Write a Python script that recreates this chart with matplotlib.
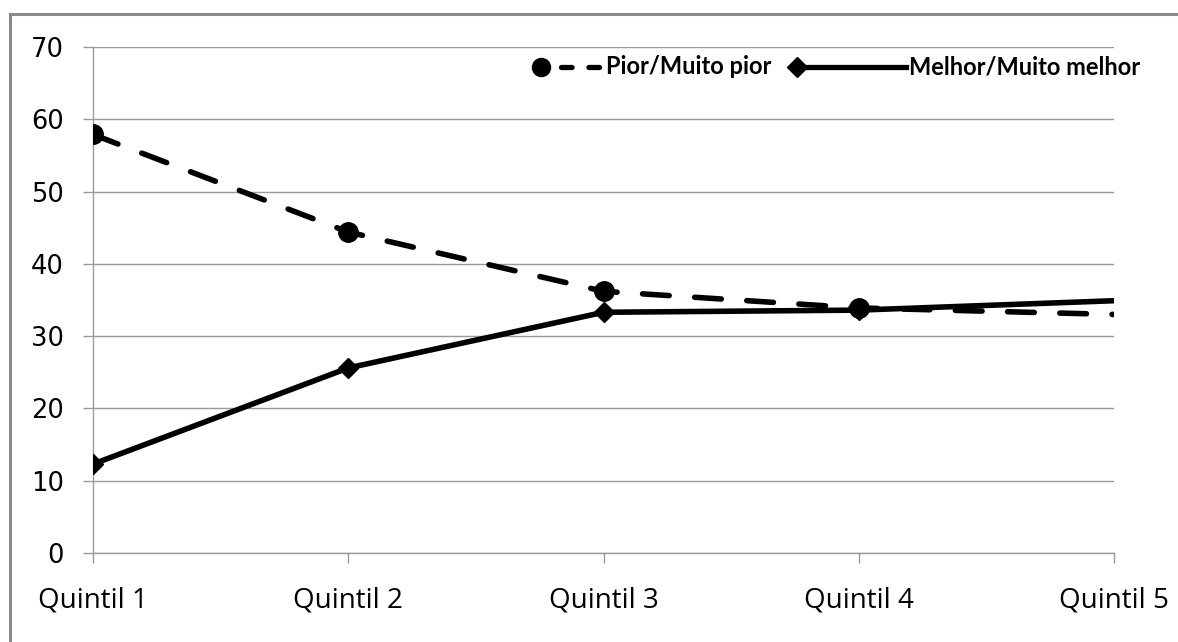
import matplotlib
matplotlib.use("Agg")
import matplotlib.pyplot as plt
from matplotlib.lines import Line2D
from matplotlib.patches import Rectangle

categories = ["Quintil 1", "Quintil 2", "Quintil 3", "Quintil 4", "Quintil 5"]
pior = [57.9, 44.4, 36.2, 33.9, 33.0]
melhor = [12.3, 25.6, 33.3, 33.6, 34.9]
labels = ["Pior/Muito pior", "Melhor/Muito melhor"]
yticks = [0, 10, 20, 30, 40, 50, 60, 70]

W, H = 1178, 642
fig = plt.figure(figsize=(W / 100, H / 100), dpi=100)
fig.patch.set_facecolor("white")

def fx(px):
    return px / W

def fy(py):
    return 1 - py / H

ax = fig.add_axes([fx(93), fy(553), fx(1114) - fx(93), fy(47) - fy(553)])
x = list(range(len(categories)))

gray = "#9a9a9a"
ax.plot(x, melhor, color="black", lw=4.0, marker="D", markersize=10,
        markevery=[0, 1, 2, 3], solid_capstyle="butt", zorder=3, clip_on=True)
ax.plot(x, pior, color="black", lw=4.0, marker="o", markersize=14,
        markevery=[0, 1, 2, 3], dashes=(4.8, 4.6), dash_capstyle="round",
        zorder=4, clip_on=True)

ax.set_xlim(0, 4)
ax.set_ylim(0, 70)
ax.set_yticks(yticks)
ax.set_xticks(x)
ax.set_xticklabels(categories, fontfamily="Open Sans", fontsize=20)
ax.set_yticklabels([str(v) for v in yticks], fontfamily="DejaVu Sans", fontsize=18.5)
ax.yaxis.grid(True, color=gray, lw=1.0)
ax.set_axisbelow(True)
for s in ["top", "right"]:
    ax.spines[s].set_visible(False)
for s in ["left", "bottom"]:
    ax.spines[s].set_color(gray)
    ax.spines[s].set_linewidth(1.0)
ax.tick_params(axis="y", length=7, color=gray, width=1.0, pad=14)
ax.tick_params(axis="x", length=7, color=gray, width=1.0, pad=17)

# Outer frame
fig.add_artist(Rectangle((fx(10), -0.05), 1.1, fy(14) + 0.05, transform=fig.transFigure,
                         fill=False, edgecolor="#8a8a8a", lw=2.2, clip_on=False))

# Manual legend
ly = fy(67)
fig.add_artist(Line2D([fx(541)], [ly], transform=fig.transFigure, color="black",
                      marker="o", markersize=13, linestyle="None"))
fig.add_artist(Line2D([fx(561), fx(601)], [ly, ly], transform=fig.transFigure,
                      color="black", lw=3.8, dashes=(2.0, 3.2), dash_capstyle="round"))
fig.text(fx(606), ly, labels[0], fontfamily="Lato", fontweight="bold", fontsize=17,
         va="center", ha="left")
fig.add_artist(Line2D([fx(797), fx(906)], [ly, ly], transform=fig.transFigure,
                      color="black", lw=3.8, marker="D", markersize=10, markevery=[0]))
fig.text(fx(909), ly, labels[1], fontfamily="Lato", fontweight="bold", fontsize=17,
         va="center", ha="left")

fig.savefig("out.png", dpi=100)
